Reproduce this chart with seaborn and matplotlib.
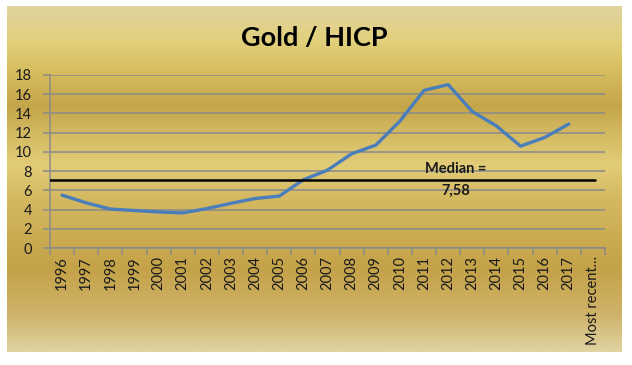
import numpy as np
import pandas as pd
import matplotlib
matplotlib.use("Agg")
import matplotlib.pyplot as plt
from matplotlib.colors import LinearSegmentedColormap
import seaborn as sns

# data
categories = ["1996", "1997", "1998", "1999", "2000", "2001", "2002", "2003",
              "2004", "2005", "2006", "2007", "2008", "2009", "2010", "2011",
              "2012", "2013", "2014", "2015", "2016", "2017", "Most recent..."]
gold_hicp = [5.5, 4.7, 4.05, 3.9, 3.75, 3.65, 4.1, 4.65, 5.15, 5.4, 7.1, 8.1,
             9.8, 10.7, 13.2, 16.4, 17.0, 14.2, 12.7, 10.6, 11.5, 12.9, np.nan]
median_value = 7.1
median_label = "Median =\n7,58"
median_label_pos = 16.3

df = pd.DataFrame({"pos": np.arange(len(categories)), "value": gold_hicp,
                   "category": categories})

sns.set_theme(style="white")
plt.rcParams["font.family"] = ["Lato", "DejaVu Sans"]

W, H = 632, 365
fig = plt.figure(figsize=(W / 100, H / 100), dpi=100)
fig.patch.set_facecolor("white")

# gold gradient background panel
bg = fig.add_axes([7 / W, 1 - 352 / H, 615 / W, 346 / H], zorder=0)
stops = [(0.0, "#e0d49e"), (0.10, "#e2d07c"), (0.19, "#d6bc5c"),
         (0.29, "#c5a54a"), (0.36, "#d2b860"), (0.46, "#e2cc78"),
         (0.56, "#d4b860"), (0.76, "#c4a248"), (0.90, "#d0b46c"),
         (1.0, "#e0d4a2")]
cmap = LinearSegmentedColormap.from_list("gold", stops)
bg.imshow(np.linspace(0, 1, 256).reshape(-1, 1), aspect="auto", cmap=cmap,
          extent=[0, 1, 1, 0])
bg.set_axis_off()

ax = fig.add_axes([50 / W, 1 - 248 / H, 555 / W, 173 / H], zorder=1)
ax.patch.set_alpha(0)

sns.lineplot(data=df, x="pos", y="value", ax=ax, color="#4a7ebb",
             linewidth=2.4, zorder=3)
ax.axhline(median_value, xmin=0, xmax=0.982, color="black", linewidth=1.8,
           zorder=4)
ax.text(median_label_pos, median_value, median_label, ha="center",
        va="center", fontsize=10.5, fontweight="bold", color="#1a1a1a",
        linespacing=1.75, zorder=5)

ax.set_xlim(-0.5, len(categories) - 0.5)
ax.set_ylim(0, 18)
ax.set_yticks(np.arange(0, 19, 2))
ax.yaxis.grid(True, color="#8a8a8a", linewidth=1.1)
ax.xaxis.grid(False)
ax.set_xticks(df["pos"])
ax.set_xticklabels(categories, rotation=90, fontsize=10.5, color="#1a1a1a")
ax.set_xticks(np.arange(-0.5, len(categories)), minor=True)
ax.tick_params(axis="x", which="major", length=0, pad=6)
ax.tick_params(axis="x", which="minor", length=5, color="#8a8a8a",
               width=1.1, bottom=True)
ax.tick_params(axis="y", length=5, color="#8a8a8a", width=1.1, left=True,
               pad=8, labelsize=10.5, labelcolor="#1a1a1a")
ax.set_xlabel("")
ax.set_ylabel("")
for side in ["top", "right"]:
    ax.spines[side].set_visible(False)
for side in ["left", "bottom"]:
    ax.spines[side].set_color("#8a8a8a")
    ax.spines[side].set_linewidth(1.1)

fig.text(314 / W, 1 - 38 / H, "Gold / HICP", ha="center", va="center",
         fontsize=19.5, fontweight="bold", color="black")

fig.savefig("out.png", dpi=100)
